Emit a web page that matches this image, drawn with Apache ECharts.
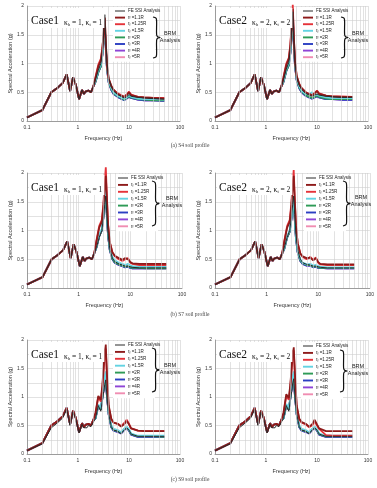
<!DOCTYPE html>
<html>
<head>
<meta charset="utf-8">
<script src="https://cdn.jsdelivr.net/npm/echarts@6/dist/echarts.min.js"></script>
<style>
  html, body { margin: 0; padding: 0; background: #fff; }
  #chart { width: 377px; height: 488px; }
</style>
</head>
<body>
<div id="chart"></div>
<script>
// frequency points (Hz), shared by all curves
const freq = [0.1, 0.2, 0.3, 0.4, 0.5, 0.6, 0.7, 0.8, 0.9, 1.05, 1.2, 1.3, 1.4, 1.5, 1.6, 1.8, 2.0,
  2.2, 2.5, 2.8, 3.0, 3.2, 3.35, 3.5, 3.7, 4.0, 4.5, 5, 6, 7, 8, 9, 10, 11, 12, 15, 20, 30, 50];

// low frequency part (0.1 - 2 Hz), almost identical for every curve
const lowBand = [0.06, 0.19, 0.50, 0.58, 0.66, 0.81, 0.52, 0.76, 0.64, 0.38, 0.54, 0.47, 0.51, 0.48, 0.53, 0.50, 0.60];
const lowBandS9FE = [0.06, 0.18, 0.46, 0.55, 0.63, 0.79, 0.50, 0.74, 0.62, 0.37, 0.52, 0.46, 0.49, 0.46, 0.50, 0.48, 0.56];

// high frequency part (2.2 - 50 Hz) per panel and per curve
// (a) S4, Case1
const s4c1FE  = [0.72, 0.88, 1.00, 1.20, 1.55, 1.85, 1.40, 1.00, 0.74, 0.60, 0.52, 0.46, 0.43, 0.40, 0.42, 0.46, 0.43, 0.42, 0.41, 0.40, 0.39, 0.38];
const s4c1R11 = [0.75, 0.95, 1.05, 1.25, 1.55, 1.80, 1.38, 0.98, 0.74, 0.61, 0.54, 0.47, 0.44, 0.42, 0.45, 0.50, 0.45, 0.43, 0.42, 0.41, 0.40, 0.39];
const s4c1R125 = [0.76, 0.98, 1.08, 1.27, 1.55, 1.78, 1.36, 0.97, 0.73, 0.61, 0.54, 0.48, 0.45, 0.42, 0.46, 0.51, 0.46, 0.44, 0.42, 0.41, 0.40, 0.40];
const s4c1R15 = [0.70, 0.88, 0.98, 1.18, 1.48, 1.70, 1.32, 0.94, 0.70, 0.57, 0.50, 0.44, 0.41, 0.39, 0.41, 0.45, 0.42, 0.40, 0.39, 0.38, 0.38, 0.37];
const s4c1R2  = [0.68, 0.85, 0.95, 1.15, 1.45, 1.65, 1.30, 0.92, 0.68, 0.55, 0.48, 0.43, 0.40, 0.37, 0.40, 0.43, 0.41, 0.39, 0.38, 0.37, 0.36, 0.36];
const s4c1R3  = [0.68, 0.85, 0.95, 1.14, 1.44, 1.64, 1.29, 0.91, 0.67, 0.54, 0.47, 0.42, 0.39, 0.36, 0.39, 0.42, 0.40, 0.38, 0.37, 0.36, 0.36, 0.35];
const s4c1R4  = [0.68, 0.85, 0.95, 1.14, 1.44, 1.63, 1.29, 0.91, 0.67, 0.54, 0.47, 0.42, 0.39, 0.37, 0.39, 0.42, 0.40, 0.38, 0.37, 0.36, 0.36, 0.35];
const s4c1R5  = [0.68, 0.85, 0.95, 1.14, 1.44, 1.63, 1.29, 0.91, 0.67, 0.54, 0.47, 0.42, 0.39, 0.37, 0.39, 0.42, 0.40, 0.38, 0.37, 0.36, 0.36, 0.35];
// (a) S4, Case2
const s4c2FE  = [0.72, 0.90, 1.02, 1.25, 1.62, 1.90, 1.45, 1.02, 0.76, 0.62, 0.55, 0.48, 0.45, 0.43, 0.45, 0.47, 0.45, 0.44, 0.43, 0.42, 0.41, 0.41];
const s4c2R11 = [0.75, 0.97, 1.08, 1.30, 1.68, 1.95, 1.48, 1.04, 0.78, 0.64, 0.57, 0.50, 0.47, 0.45, 0.48, 0.52, 0.47, 0.45, 0.44, 0.43, 0.42, 0.42];
const s4c2R125 = [0.76, 1.00, 1.10, 1.33, 1.72, 2.02, 1.50, 1.05, 0.78, 0.64, 0.57, 0.50, 0.47, 0.45, 0.49, 0.53, 0.48, 0.46, 0.44, 0.43, 0.43, 0.42];
const s4c2R15 = [0.70, 0.90, 1.00, 1.22, 1.60, 1.90, 1.42, 1.00, 0.74, 0.60, 0.53, 0.47, 0.46, 0.50, 0.45, 0.46, 0.44, 0.42, 0.41, 0.40, 0.40, 0.40];
const s4c2R2  = [0.68, 0.87, 0.97, 1.18, 1.55, 1.82, 1.38, 0.97, 0.72, 0.58, 0.51, 0.45, 0.42, 0.40, 0.42, 0.44, 0.42, 0.40, 0.39, 0.38, 0.38, 0.38];
const s4c2R3  = [0.68, 0.87, 0.97, 1.18, 1.54, 1.80, 1.37, 0.96, 0.71, 0.57, 0.50, 0.44, 0.41, 0.39, 0.41, 0.43, 0.41, 0.39, 0.38, 0.38, 0.37, 0.37];
const s4c2R4  = [0.68, 0.87, 0.97, 1.18, 1.54, 1.80, 1.37, 0.96, 0.71, 0.57, 0.50, 0.44, 0.41, 0.39, 0.41, 0.43, 0.41, 0.39, 0.38, 0.38, 0.37, 0.37];
const s4c2R5  = [0.68, 0.87, 0.97, 1.18, 1.54, 1.80, 1.37, 0.96, 0.71, 0.57, 0.50, 0.44, 0.41, 0.39, 0.41, 0.43, 0.41, 0.39, 0.38, 0.38, 0.37, 0.37];
// (b) S7, Case1
const s7c1FE  = [0.70, 0.88, 1.00, 1.20, 1.45, 1.60, 1.30, 0.95, 0.68, 0.52, 0.46, 0.42, 0.40, 0.38, 0.38, 0.37, 0.36, 0.36, 0.35, 0.35, 0.35, 0.35];
const s7c1R11 = [0.80, 1.05, 1.15, 1.40, 1.75, 1.95, 1.60, 1.10, 0.80, 0.62, 0.56, 0.52, 0.49, 0.52, 0.50, 0.45, 0.43, 0.43, 0.42, 0.42, 0.42, 0.42];
const s7c1R125 = [0.82, 1.08, 1.18, 1.45, 1.85, 2.10, 1.65, 1.12, 0.80, 0.62, 0.55, 0.50, 0.47, 0.50, 0.52, 0.44, 0.42, 0.41, 0.40, 0.40, 0.40, 0.40];
const s7c1R15 = [0.72, 0.92, 1.03, 1.25, 1.52, 1.70, 1.35, 0.96, 0.70, 0.54, 0.48, 0.44, 0.42, 0.40, 0.42, 0.39, 0.38, 0.37, 0.37, 0.37, 0.37, 0.37];
const s7c1R2  = [0.70, 0.90, 1.00, 1.22, 1.48, 1.62, 1.30, 0.93, 0.67, 0.51, 0.45, 0.41, 0.39, 0.37, 0.38, 0.36, 0.35, 0.35, 0.35, 0.34, 0.34, 0.34];
const s7c1R3  = [0.70, 0.90, 1.00, 1.21, 1.47, 1.60, 1.29, 0.92, 0.66, 0.50, 0.44, 0.40, 0.38, 0.36, 0.37, 0.35, 0.34, 0.34, 0.34, 0.34, 0.34, 0.34];
const s7c1R4  = [0.70, 0.90, 1.00, 1.21, 1.47, 1.60, 1.29, 0.92, 0.66, 0.50, 0.44, 0.40, 0.38, 0.36, 0.37, 0.35, 0.34, 0.34, 0.34, 0.34, 0.34, 0.34];
const s7c1R5  = [0.70, 0.90, 1.00, 1.21, 1.47, 1.60, 1.29, 0.92, 0.66, 0.50, 0.44, 0.40, 0.38, 0.36, 0.37, 0.35, 0.34, 0.34, 0.34, 0.34, 0.34, 0.34];
// (b) S7, Case2
const s7c2FE  = [0.70, 0.88, 1.00, 1.20, 1.45, 1.60, 1.28, 0.93, 0.66, 0.50, 0.44, 0.41, 0.40, 0.38, 0.38, 0.37, 0.36, 0.36, 0.35, 0.35, 0.35, 0.35];
const s7c2R11 = [0.80, 1.05, 1.15, 1.40, 1.75, 1.95, 1.55, 1.08, 0.78, 0.60, 0.55, 0.52, 0.53, 0.48, 0.52, 0.45, 0.42, 0.41, 0.41, 0.41, 0.41, 0.41];
const s7c2R125 = [0.82, 1.08, 1.18, 1.45, 1.82, 2.05, 1.60, 1.10, 0.78, 0.60, 0.54, 0.50, 0.54, 0.49, 0.53, 0.44, 0.41, 0.40, 0.40, 0.40, 0.40, 0.40];
const s7c2R15 = [0.70, 0.90, 1.00, 1.20, 1.42, 1.55, 1.25, 0.90, 0.65, 0.50, 0.44, 0.41, 0.42, 0.39, 0.40, 0.38, 0.37, 0.36, 0.36, 0.36, 0.36, 0.36];
const s7c2R2  = [0.68, 0.88, 0.98, 1.18, 1.40, 1.52, 1.22, 0.88, 0.63, 0.48, 0.43, 0.40, 0.40, 0.37, 0.38, 0.36, 0.35, 0.35, 0.35, 0.35, 0.35, 0.35];
const s7c2R3  = [0.68, 0.88, 0.98, 1.17, 1.39, 1.50, 1.21, 0.87, 0.62, 0.47, 0.42, 0.39, 0.39, 0.36, 0.37, 0.35, 0.35, 0.35, 0.34, 0.34, 0.34, 0.34];
const s7c2R4  = [0.68, 0.88, 0.98, 1.17, 1.39, 1.50, 1.21, 0.87, 0.62, 0.47, 0.42, 0.39, 0.39, 0.36, 0.37, 0.35, 0.35, 0.35, 0.34, 0.34, 0.34, 0.34];
const s7c2R5  = [0.68, 0.88, 0.98, 1.17, 1.39, 1.50, 1.21, 0.87, 0.62, 0.47, 0.42, 0.39, 0.39, 0.36, 0.37, 0.35, 0.35, 0.35, 0.34, 0.34, 0.34, 0.34];
// (c) S9, Case1
const s9c1FE  = [0.62, 0.85, 0.75, 0.95, 1.10, 1.22, 1.30, 1.00, 0.70, 0.48, 0.42, 0.40, 0.36, 0.42, 0.46, 0.42, 0.35, 0.32, 0.31, 0.31, 0.31, 0.31];
const s9c1R11 = [0.72, 1.02, 0.95, 1.20, 1.55, 1.82, 1.92, 1.40, 0.85, 0.62, 0.55, 0.53, 0.48, 0.52, 0.58, 0.52, 0.45, 0.42, 0.41, 0.40, 0.40, 0.40];
const s9c1R125 = [0.70, 1.00, 0.92, 1.15, 1.50, 1.75, 1.85, 1.35, 0.82, 0.60, 0.55, 0.53, 0.49, 0.54, 0.60, 0.53, 0.45, 0.42, 0.41, 0.40, 0.40, 0.40];
const s9c1R15 = [0.62, 0.87, 0.80, 1.00, 1.20, 1.38, 1.45, 1.10, 0.72, 0.50, 0.44, 0.42, 0.38, 0.44, 0.48, 0.43, 0.36, 0.33, 0.32, 0.32, 0.32, 0.32];
const s9c1R2  = [0.62, 0.85, 0.78, 0.98, 1.15, 1.28, 1.32, 1.02, 0.70, 0.48, 0.42, 0.40, 0.37, 0.43, 0.47, 0.42, 0.35, 0.32, 0.31, 0.31, 0.31, 0.30];
const s9c1R3  = [0.62, 0.85, 0.78, 0.97, 1.14, 1.27, 1.31, 1.01, 0.69, 0.47, 0.41, 0.39, 0.36, 0.42, 0.46, 0.41, 0.34, 0.31, 0.30, 0.30, 0.30, 0.30];
const s9c1R4  = [0.62, 0.85, 0.78, 0.97, 1.14, 1.27, 1.31, 1.01, 0.69, 0.47, 0.41, 0.39, 0.36, 0.42, 0.46, 0.41, 0.34, 0.31, 0.30, 0.30, 0.30, 0.30];
const s9c1R5  = [0.62, 0.85, 0.78, 0.97, 1.14, 1.27, 1.31, 1.01, 0.69, 0.47, 0.41, 0.39, 0.36, 0.42, 0.46, 0.41, 0.34, 0.31, 0.30, 0.30, 0.30, 0.30];
// (c) S9, Case2
const s9c2FE  = [0.62, 0.85, 0.75, 0.95, 1.10, 1.25, 1.32, 1.00, 0.70, 0.48, 0.42, 0.40, 0.36, 0.42, 0.46, 0.42, 0.35, 0.32, 0.31, 0.31, 0.31, 0.31];
const s9c2R11 = [0.72, 1.05, 0.98, 1.22, 1.55, 1.80, 1.87, 1.40, 0.85, 0.62, 0.56, 0.53, 0.48, 0.52, 0.60, 0.52, 0.45, 0.42, 0.40, 0.40, 0.40, 0.40];
const s9c2R125 = [0.70, 1.02, 0.95, 1.18, 1.50, 1.75, 1.82, 1.35, 0.82, 0.60, 0.55, 0.52, 0.47, 0.50, 0.57, 0.50, 0.44, 0.41, 0.33, 0.32, 0.32, 0.32];
const s9c2R15 = [0.62, 0.88, 0.80, 1.00, 1.22, 1.38, 1.45, 1.10, 0.72, 0.50, 0.44, 0.42, 0.38, 0.44, 0.48, 0.43, 0.36, 0.33, 0.32, 0.32, 0.32, 0.32];
const s9c2R2  = [0.62, 0.85, 0.78, 0.98, 1.18, 1.30, 1.35, 1.02, 0.70, 0.48, 0.42, 0.40, 0.37, 0.43, 0.47, 0.42, 0.35, 0.32, 0.31, 0.31, 0.31, 0.31];
const s9c2R3  = [0.62, 0.85, 0.78, 0.97, 1.16, 1.29, 1.33, 1.01, 0.69, 0.47, 0.41, 0.39, 0.36, 0.42, 0.46, 0.41, 0.34, 0.31, 0.30, 0.30, 0.30, 0.30];
const s9c2R4  = [0.62, 0.85, 0.78, 0.97, 1.16, 1.29, 1.33, 1.01, 0.69, 0.47, 0.41, 0.39, 0.36, 0.42, 0.46, 0.41, 0.34, 0.31, 0.30, 0.30, 0.30, 0.30];
const s9c2R5  = [0.62, 0.85, 0.78, 0.97, 1.16, 1.29, 1.33, 1.01, 0.69, 0.47, 0.41, 0.39, 0.36, 0.42, 0.46, 0.41, 0.34, 0.31, 0.30, 0.30, 0.30, 0.30];

const seriesNames = ['FE SSI Analysis', 'r_f =1.1R', 'r_f =1.25R', 'r_f =1.5R', 'r_f =2R', 'r_f =3R', 'r_f =4R', 'r_f =5R'];
const seriesColors = ['#2a2a2a', '#8e1b1b', '#e5333a', '#63d3e2', '#2f9b57', '#2c3fc2', '#8f45d6', '#f08db2'];
const xTicks = [0.1, 1, 10, 100];
const yTicks = [0, 0.5, 1, 1.5, 2];
const minorFreqs = [0.2, 0.3, 0.4, 0.5, 0.6, 0.7, 0.8, 0.9, 2, 3, 4, 5, 6, 7, 8, 9, 20, 30, 40, 50, 60, 70, 80, 90];
const captions = ['(a) S4 soil profile', '(b) S7 soil profile', '(c) S9 soil profile'];

// panel layout: grid rect, legend box [left, top, row step], brace, BRM label
const panels = [
  { caseNo: 1, k: 1, grid: [27, 6, 153, 115], legend: [113, 7, 6.6], brace: [153, 17, 41], brm: [170, 37],
    low: [lowBand, lowBand], tails: [s4c1FE, s4c1R11, s4c1R125, s4c1R15, s4c1R2, s4c1R3, s4c1R4, s4c1R5] },
  { caseNo: 2, k: 2, grid: [215, 6, 153, 115], legend: [301, 7, 6.6], brace: [341, 17, 41], brm: [358, 37],
    low: [lowBand, lowBand], tails: [s4c2FE, s4c2R11, s4c2R125, s4c2R15, s4c2R2, s4c2R3, s4c2R4, s4c2R5] },
  { caseNo: 1, k: 1, grid: [27, 173, 155, 115], legend: [116, 174, 6.9], brace: [152, 181, 45], brm: [172, 202],
    low: [lowBand, lowBand], tails: [s7c1FE, s7c1R11, s7c1R125, s7c1R15, s7c1R2, s7c1R3, s7c1R4, s7c1R5] },
  { caseNo: 2, k: 2, grid: [215, 173, 155, 115], legend: [304, 174, 6.9], brace: [343, 181, 45], brm: [361, 201],
    low: [lowBand, lowBand], tails: [s7c2FE, s7c2R11, s7c2R125, s7c2R15, s7c2R2, s7c2R3, s7c2R4, s7c2R5] },
  { caseNo: 1, k: 1, grid: [27, 340, 153, 114], legend: [113, 341, 6.9], brace: [152, 348, 44], brm: [170, 369],
    low: [lowBandS9FE, lowBand], tails: [s9c1FE, s9c1R11, s9c1R125, s9c1R15, s9c1R2, s9c1R3, s9c1R4, s9c1R5] },
  { caseNo: 2, k: 2, grid: [215, 340, 153, 114], legend: [301, 342, 6.9], brace: [340, 350, 42], brm: [358, 370],
    low: [lowBandS9FE, lowBand], tails: [s9c2FE, s9c2R11, s9c2R125, s9c2R15, s9c2R2, s9c2R3, s9c2R4, s9c2R5] }
];

const gridColor = '#cfcfcf';
const chart = echarts.init(document.getElementById('chart'), null, { renderer: 'canvas' });

const grids = [], xAxes = [], yAxes = [], series = [], titles = [], graphics = [];

const legendLabel = name => name.startsWith('r_f') ? '{a|r}{b|f}{a|' + name.slice(3) + '}' : '{a|' + name + '}';

panels.forEach((p, i) => {
  grids.push({ left: p.grid[0], top: p.grid[1], width: p.grid[2], height: p.grid[3] });

  xAxes.push({
    gridIndex: i, type: 'log', logBase: 10, min: 0.1, max: 100,
    axisLine: { lineStyle: { color: '#8a8a8a', width: 0.8 } },
    axisTick: { show: false },
    axisLabel: {
      fontSize: 5, color: '#333', margin: 4, fontFamily: 'Liberation Sans',
      formatter: v => xTicks.find(t => Math.abs(t - v) / t < 1e-6) !== undefined ? String(+(+v).toPrecision(3)) : ''
    },
    splitLine: { show: true, lineStyle: { color: gridColor, width: 0.6 } },
    name: 'Frequency (Hz)', nameLocation: 'middle', nameGap: 14,
    nameTextStyle: { fontSize: 5.5, color: '#333', fontFamily: 'Liberation Sans' }
  });

  yAxes.push({
    gridIndex: i, type: 'value', min: 0, max: 2, interval: 0.5,
    axisLine: { show: true, lineStyle: { color: '#8a8a8a', width: 0.8 } },
    axisTick: { show: false },
    minorTick: { show: false, splitNumber: 2 },
    minorSplitLine: { show: true, lineStyle: { color: gridColor, width: 0.6 } },
    splitLine: { show: true, lineStyle: { color: gridColor, width: 0.6 } },
    axisLabel: {
      fontSize: 5, color: '#333', margin: 3, fontFamily: 'Liberation Sans',
      formatter: v => yTicks.includes(v) ? String(v) : ''
    },
    name: 'Spectral Acceleration (g)', nameLocation: 'middle', nameGap: 12, nameRotate: 90,
    nameTextStyle: { fontSize: 5.5, color: '#333', fontFamily: 'Liberation Sans' }
  });

  // minor vertical grid lines of the log axis
  series.push({
    type: 'line', xAxisIndex: i, yAxisIndex: i, data: [], silent: true, z: 1,
    markLine: {
      silent: true, symbol: ['none', 'none'], label: { show: false }, animation: false,
      lineStyle: { color: gridColor, width: 0.6, type: 'solid' },
      data: minorFreqs.map(f => ({ xAxis: f }))
    }
  });

  // draw from r_f=5R up to FE so the thick green / red curves sit on top
  for (let s = seriesNames.length - 1; s >= 0; s--) {
    const low = s === 0 ? p.low[0] : p.low[1];
    const vals = low.concat(p.tails[s]);
    series.push({
      name: seriesNames[s], type: 'line', xAxisIndex: i, yAxisIndex: i,
      data: freq.map((f, j) => [f, vals[j]]),
      symbol: 'none', clip: false, z: 3,
      color: seriesColors[s],
      lineStyle: { color: seriesColors[s], width: s === 0 ? 1 : 1.8 }
    });
  }

  // legend box drawn by hand (keeps the short thick line samples)
  const [lx, ly, dy] = p.legend;
  graphics.push({
    type: 'rect', silent: true, z: 90,
    shape: { x: lx, y: ly, width: 42, height: dy * 8 + 2 },
    style: { fill: '#fff' }
  });
  seriesNames.forEach((n, s) => {
    const yy = ly + 4 + s * dy;
    graphics.push({
      type: 'line', silent: true, z: 91,
      shape: { x1: lx + 2, y1: yy, x2: lx + 12, y2: yy },
      style: { stroke: seriesColors[s], lineWidth: s === 0 ? 1 : 1.9 }
    });
    graphics.push({
      type: 'text', silent: true, z: 91, x: lx + 15, y: yy,
      style: {
        text: legendLabel(n), verticalAlign: 'middle', fill: '#222',
        fontSize: 4.5, fontFamily: 'Liberation Sans',
        rich: {
          a: { fontSize: 4.5, lineHeight: 5, fill: '#222', fontFamily: 'Liberation Sans' },
          b: { fontSize: 3.2, lineHeight: 3, verticalAlign: 'bottom', fill: '#222', fontFamily: 'Liberation Sans' }
        }
      }
    });
  });

  titles.push({
    left: p.grid[0] + 2, top: p.grid[1] + 2, backgroundColor: '#fff', padding: [1, 2, 1, 2],
    text: '{c|Case' + p.caseNo + '} {k|κ}{s|h}{k| = ' + p.k + ', κ}{s|t}{k| = ' + p.k + '}',
    textStyle: {
      fontWeight: 'normal',
      rich: {
        c: { fontSize: 11.5, lineHeight: 12, color: '#111', fontWeight: 'normal', fontFamily: 'Liberation Serif', verticalAlign: 'bottom' },
        k: { fontSize: 7.5, lineHeight: 9, color: '#111', fontWeight: 'normal', fontFamily: 'Liberation Serif', verticalAlign: 'bottom' },
        s: { fontSize: 4.5, lineHeight: 5, color: '#111', fontWeight: 'normal', fontFamily: 'Liberation Serif', verticalAlign: 'bottom' }
      }
    }
  });

  // curly brace grouping the BRM curves
  const [bx, by, bh] = p.brace;
  const u = bh / 42;
  graphics.push({
    type: 'polyline', silent: true, z: 100,
    shape: {
      smooth: 0.35,
      points: [[0, 0], [3, 1.2], [3.6, 4], [3.6, 18], [4.6, 20.2], [7, 21], [4.6, 21.8], [3.6, 24], [3.6, 38], [3, 40.8], [0, 42]]
        .map(([x, y]) => [bx + x, by + y * u])
    },
    style: { stroke: '#111', lineWidth: 1.2, fill: null }
  });
  graphics.push({
    type: 'text', silent: true, z: 100, x: p.brm[0], y: p.brm[1],
    style: { text: 'BRM\nAnalysis', align: 'center', verticalAlign: 'middle', fontSize: 5.5, lineHeight: 6.5,
      fontFamily: 'Liberation Sans', fill: '#222' }
  });
});

// figure captions under each row
[146, 315, 480].forEach((y, r) => {
  graphics.push({
    type: 'text', silent: true, x: 190, y: y,
    style: { text: captions[r], align: 'center', verticalAlign: 'middle', fontSize: 5.5,
      fontFamily: 'Liberation Serif', fill: '#444' }
  });
});

chart.setOption({
  animation: false,
  backgroundColor: '#fff',
  title: titles,
  grid: grids,
  xAxis: xAxes,
  yAxis: yAxes,
  series: series,
  graphic: graphics
});
</script>
</body>
</html>
